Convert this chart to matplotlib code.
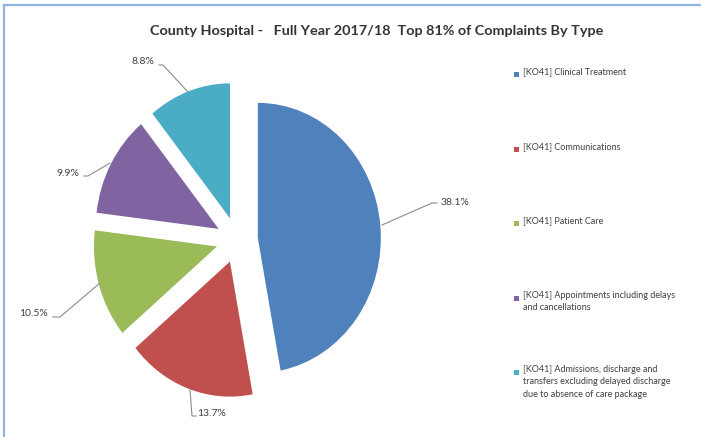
import matplotlib
matplotlib.use("Agg")
import matplotlib.pyplot as plt
from matplotlib.patches import Rectangle
from matplotlib.lines import Line2D

categories = [
    "[KO41] Clinical Treatment",
    "[KO41] Communications",
    "[KO41] Patient Care",
    "[KO41] Appointments including delays\nand cancellations",
    "[KO41] Admissions, discharge and\ntransfers excluding delayed discharge\ndue to absence of care package",
]
values = [38.1, 13.7, 10.5, 9.9, 8.8]
value_labels = ["38.1%", "13.7%", "10.5%", "9.9%", "8.8%"]
colors = ["#4F81BD", "#C0504D", "#9BBB59", "#8064A2", "#4BACC6"]
title = "County Hospital -   Full Year 2017/18  Top 81% of Complaints By Type"

W, H = 701, 437
fig = plt.figure(figsize=(W / 100, H / 100), dpi=100)
fig.patch.set_facecolor("white")

# pixel geometry of the pie
cx, cy = 237, 240
rx, ry = 123, 135
ax_l, ax_r, ax_t, ax_b = 10, 470, 50, 430
ax = fig.add_axes([ax_l / W, (H - ax_b) / H, (ax_r - ax_l) / W, (ax_b - ax_t) / H])

ax.pie(values, colors=colors, startangle=90, counterclock=False,
       explode=[0.17] * len(values), radius=1.0,
       wedgeprops=dict(linewidth=0))
ax.set_aspect("auto")
ax.set_xlim((ax_l - cx) / rx, (ax_r - cx) / rx)
ax.set_ylim((cy - ax_b) / ry, (cy - ax_t) / ry)
ax.axis("off")


def d(px, py):
    return ((px - cx) / rx, (cy - py) / ry)


# label positions (text center) and leader line vertices in pixels
label_specs = [
    ((455, 202), [(382, 225), (432, 203), (437, 203)]),
    ((212, 414), [(190, 390), (192, 416), (196, 416)]),
    ((34, 313), [(100, 283), (60, 317), (53, 317)]),
    ((68, 173), [(110, 163), (88, 176), (84, 176)]),
    ((143, 61), [(188, 92), (163, 65), (159, 65)]),
]
lab_color = "#404040"
for lab, ((tx, ty), pts) in zip(value_labels, label_specs):
    xs = [d(*p)[0] for p in pts]
    ys = [d(*p)[1] for p in pts]
    ax.add_line(Line2D(xs, ys, color="#8C8C8C", lw=0.8, clip_on=False))
    ax.text(*d(tx, ty), lab, ha="center", va="center", fontsize=7.5,
            color=lab_color, family="Lato", clip_on=False)

fig.text(377 / W, 1 - 31 / H, title, ha="center", va="center",
         fontsize=10.4, fontweight="bold", color="#333333", family="Lato")

# legend
leg_y = [74, 149, 223, 298, 372]
for lab, col, y in zip(categories, colors, leg_y):
    fig.patches.append(Rectangle(((514) / W, 1 - (y + 3) / H), 5 / W, 5 / H,
                                 transform=fig.transFigure, facecolor=col,
                                 edgecolor="none"))
    fig.text(523 / W, 1 - (y - 7) / H, lab, ha="left", va="top", fontsize=6.5,
             color="#404040", family="Lato", linespacing=1.5)

# chart border (top and left light blue)
fig.add_artist(Line2D([3.5 / W, 1], [1 - 4.5 / H, 1 - 4.5 / H],
                      transform=fig.transFigure, color="#8EB4E3", lw=1.6))
fig.add_artist(Line2D([3.5 / W, 3.5 / W], [0, 1 - 4.5 / H],
                      transform=fig.transFigure, color="#8EB4E3", lw=1.6))

fig.savefig("out.png", dpi=100, facecolor="white")
